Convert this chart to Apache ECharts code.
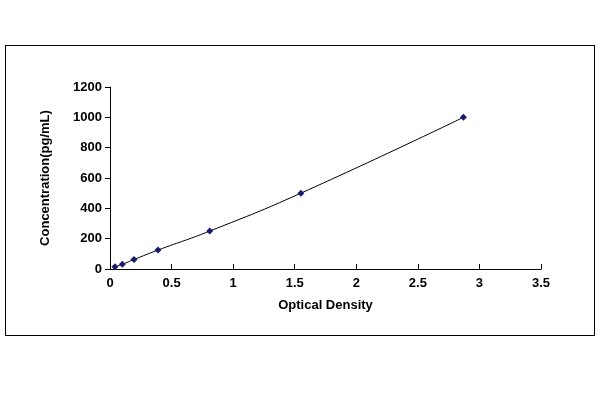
<!DOCTYPE html><html><head><meta charset="utf-8"><script src="https://cdn.jsdelivr.net/npm/echarts@6/dist/echarts.min.js"></script></head><body style="margin:0;background:#fff">
<div style="position:absolute;left:5px;top:45px;width:588px;height:289px;border:1px solid #000"></div>
<div id="c" style="width:600px;height:400px"></div><script>
const od=[0.04,0.1,0.195,0.39,0.81,1.55,2.87];
const conc=[15.6,31.25,62.5,125,250,500,1000];
const c=echarts.init(document.getElementById('c'));
const ax={color:'#000',fontFamily:'Arial',fontSize:13,fontWeight:'bold',formatter:v=>String(v)};
c.setOption({animation:false,grid:{left:110,right:59,top:87,bottom:131},
xAxis:{type:'value',min:0,max:3.5,interval:0.5,name:'Optical Density',nameLocation:'middle',nameGap:30,nameTextStyle:{fontWeight:'bold',fontSize:13,color:'#000',fontFamily:'Arial'},axisLine:{lineStyle:{color:'#000'}},axisTick:{inside:true,lineStyle:{color:'#000'}},axisLabel:ax,splitLine:{show:false}},
yAxis:{type:'value',min:0,max:1200,interval:200,name:'Concentration(pg/mL)',nameLocation:'middle',nameGap:58,nameTextStyle:{fontWeight:'bold',fontSize:13,color:'#000',fontFamily:'Arial'},axisLine:{show:true,lineStyle:{color:'#000'}},axisTick:{show:true,lineStyle:{color:'#000'}},axisLabel:ax,splitLine:{show:false}},
series:[{type:'line',smooth:true,data:od.map((x,i)=>[x,conc[i]]),symbol:'diamond',symbolSize:7,itemStyle:{color:'#1a1a6e'},lineStyle:{color:'#000',width:1}}]});
</script></body></html>
